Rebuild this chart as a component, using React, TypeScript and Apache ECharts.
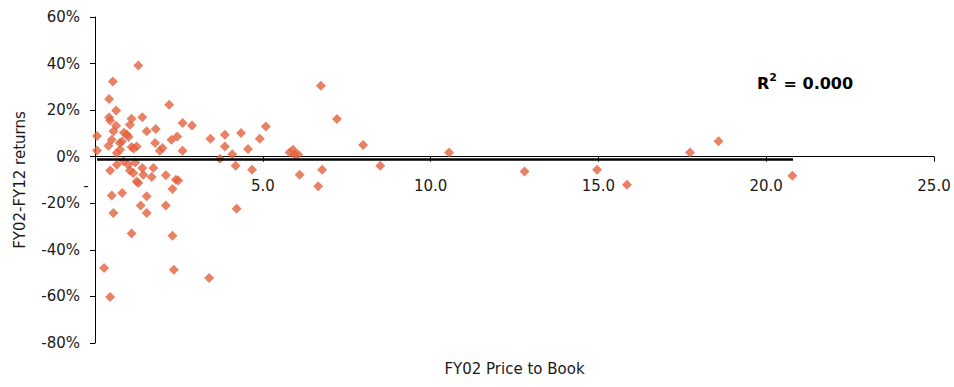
import React, { useEffect, useRef } from "react";
import * as echarts from "echarts";

// Price to book (x) vs FY02-FY12 returns in % (y)
const priceToBook: number[] = [
  1.29, 0.53, 0.42, 2.21, 0.63, 0.42, 0.45, 1.09, 1.41, 0.63, 1.04, 1.54, 1.81, 2.61, 2.89, 0.06, 0.55, 0.86,
  0.95, 1.0, 0.5, 0.74, 0.4, 1.79, 2.01, 1.93, 2.28, 2.45, 2.61, 0.06, 1.09, 1.24, 0.65, 0.8, 1.15, 0.75,
  3.44, 3.87, 4.35, 5.09, 4.91, 3.87, 4.56, 4.09, 5.8, 5.9, 5.95, 6.05, 6.73, 7.21, 7.99, 10.55, 17.73, 18.58,
  0.45, 0.65, 0.99, 1.04, 1.14, 1.41, 1.74, 1.44, 1.69, 1.24, 1.29, 2.11, 2.41, 2.48, 2.31, 0.5, 0.81, 1.54,
  1.36, 2.11, 0.55, 1.54, 1.09, 2.31, 0.27, 2.35, 0.45, 0.85, 1.2,
  3.72, 4.19, 4.68, 6.1, 4.22, 3.4, 6.77, 6.65, 8.5, 12.8, 14.96, 15.85, 20.78,
];
const returnsPct: number[] = [
  39.2, 32.3, 24.8, 22.3, 19.9, 17.0, 15.5, 16.3, 16.9, 13.3, 13.7, 10.9, 11.9, 14.5, 13.4, 8.9, 10.9, 10.3,
  9.5, 8.5, 7.3, 5.9, 4.7, 5.9, 3.7, 2.6, 7.3, 8.7, 2.6, 2.7, 4.2, 4.4, 1.6, 6.5, 3.5, 3.0,
  7.7, 9.4, 10.2, 13.0, 7.7, 4.4, 3.3, 1.1, 1.8, 3.0, 0.9, 0.9, 30.5, 16.2, 5.0, 1.8, 1.8, 6.6,
  -5.9, -3.4, -3.4, -5.9, -7.0, -4.9, -4.9, -7.7, -8.7, -10.6, -11.3, -8.0, -9.9, -10.2, -13.9, -16.7, -15.6, -17.0,
  -21.0, -21.0, -24.2, -24.2, -33.0, -33.9, -47.8, -48.5, -60.2, -2.0, -2.5,
  -0.9, -3.9, -5.6, -7.7, -22.4, -52.1, -5.6, -12.7, -3.9, -6.3, -5.6, -12.0, -8.2,
];
// linear trend line end points (x, y%)
const trendX: number[] = [0.06, 20.8];
const trendY: number[] = [-1.2, -1.2];
const xTitle = "FY02 Price to Book";
const yTitle = "FY02-FY12 returns";

const FONT = "DejaVu Sans";

export default function App() {
  const ref = useRef<HTMLDivElement>(null);
  useEffect(() => {
    if (!ref.current) return;
    const chart = echarts.init(ref.current, null, { renderer: "svg" });
    const points = priceToBook.map((x, i) => [x, returnsPct[i]]);
    const trend = trendX.map((x, i) => [x, trendY[i]]);
    chart.setOption({
      animation: false,
      backgroundColor: "#ffffff",
      grid: { left: 95, right: 20, top: 17, bottom: 44, containLabel: false, outerBoundsMode: "none" },
      xAxis: {
        type: "value",
        min: 0,
        max: 25,
        interval: 5,
        position: "bottom",
        offset: -186.3,
        name: xTitle,
        nameLocation: "middle",
        nameGap: 205,
        nameTextStyle: { fontFamily: FONT, fontSize: 15, color: "#1a1a1a" },
        axisLine: { onZero: false, lineStyle: { color: "#000", width: 1 } },
        axisTick: { show: true, length: 5, lineStyle: { color: "#000" } },
        splitLine: { show: false },
        axisLabel: {
          margin: 22,
          fontFamily: FONT,
          fontSize: 15,
          color: "#1a1a1a",
          showMaxLabel: true,
          formatter: (v: number) => (v === 0 ? "{z|-}" : v.toFixed(1)),
          rich: { z: { fontFamily: FONT, fontSize: 15, color: "#1a1a1a", padding: [0, 18, 0, 0] } },
        },
      },
      yAxis: {
        type: "value",
        min: -80,
        max: 60,
        interval: 20,
        name: yTitle,
        nameLocation: "middle",
        nameGap: 68,
        nameTextStyle: { fontFamily: FONT, fontSize: 15, color: "#1a1a1a" },
        axisLine: { show: true, lineStyle: { color: "#000", width: 1 } },
        axisTick: { show: true, length: 5, lineStyle: { color: "#000" } },
        splitLine: { show: false },
        axisLabel: {
          margin: 15,
          fontFamily: FONT,
          fontSize: 15,
          color: "#1a1a1a",
          formatter: (v: number) => `${v}%`,
        },
      },
      series: [
        {
          type: "scatter",
          data: points,
          symbol: "diamond",
          symbolSize: 10,
          itemStyle: { color: "#E3623F" },
          z: 3,
        },
        {
          type: "line",
          data: trend,
          symbol: "none",
          lineStyle: { color: "#000", width: 2.5 },
          z: 4,
        },
      ],
      graphic: [
        {
          type: "text",
          left: 757,
          top: 72,
          style: {
            text: "{b|R}{s|2}{b| = 0.000}",
            rich: {
              b: { fontFamily: FONT, fontWeight: "bold", fontSize: 16, fill: "#000", color: "#000", verticalAlign: "bottom" },
              s: { fontFamily: FONT, fontWeight: "bold", fontSize: 11, color: "#000", verticalAlign: "top", padding: [0, 1, 8, 0] },
            },
          },
        },
      ],
    });
    return () => chart.dispose();
  }, []);
  return (
    <div
      ref={ref}
      style={{ position: "absolute", left: 0, top: 0, width: 954, height: 387 }}
    />
  );
}
